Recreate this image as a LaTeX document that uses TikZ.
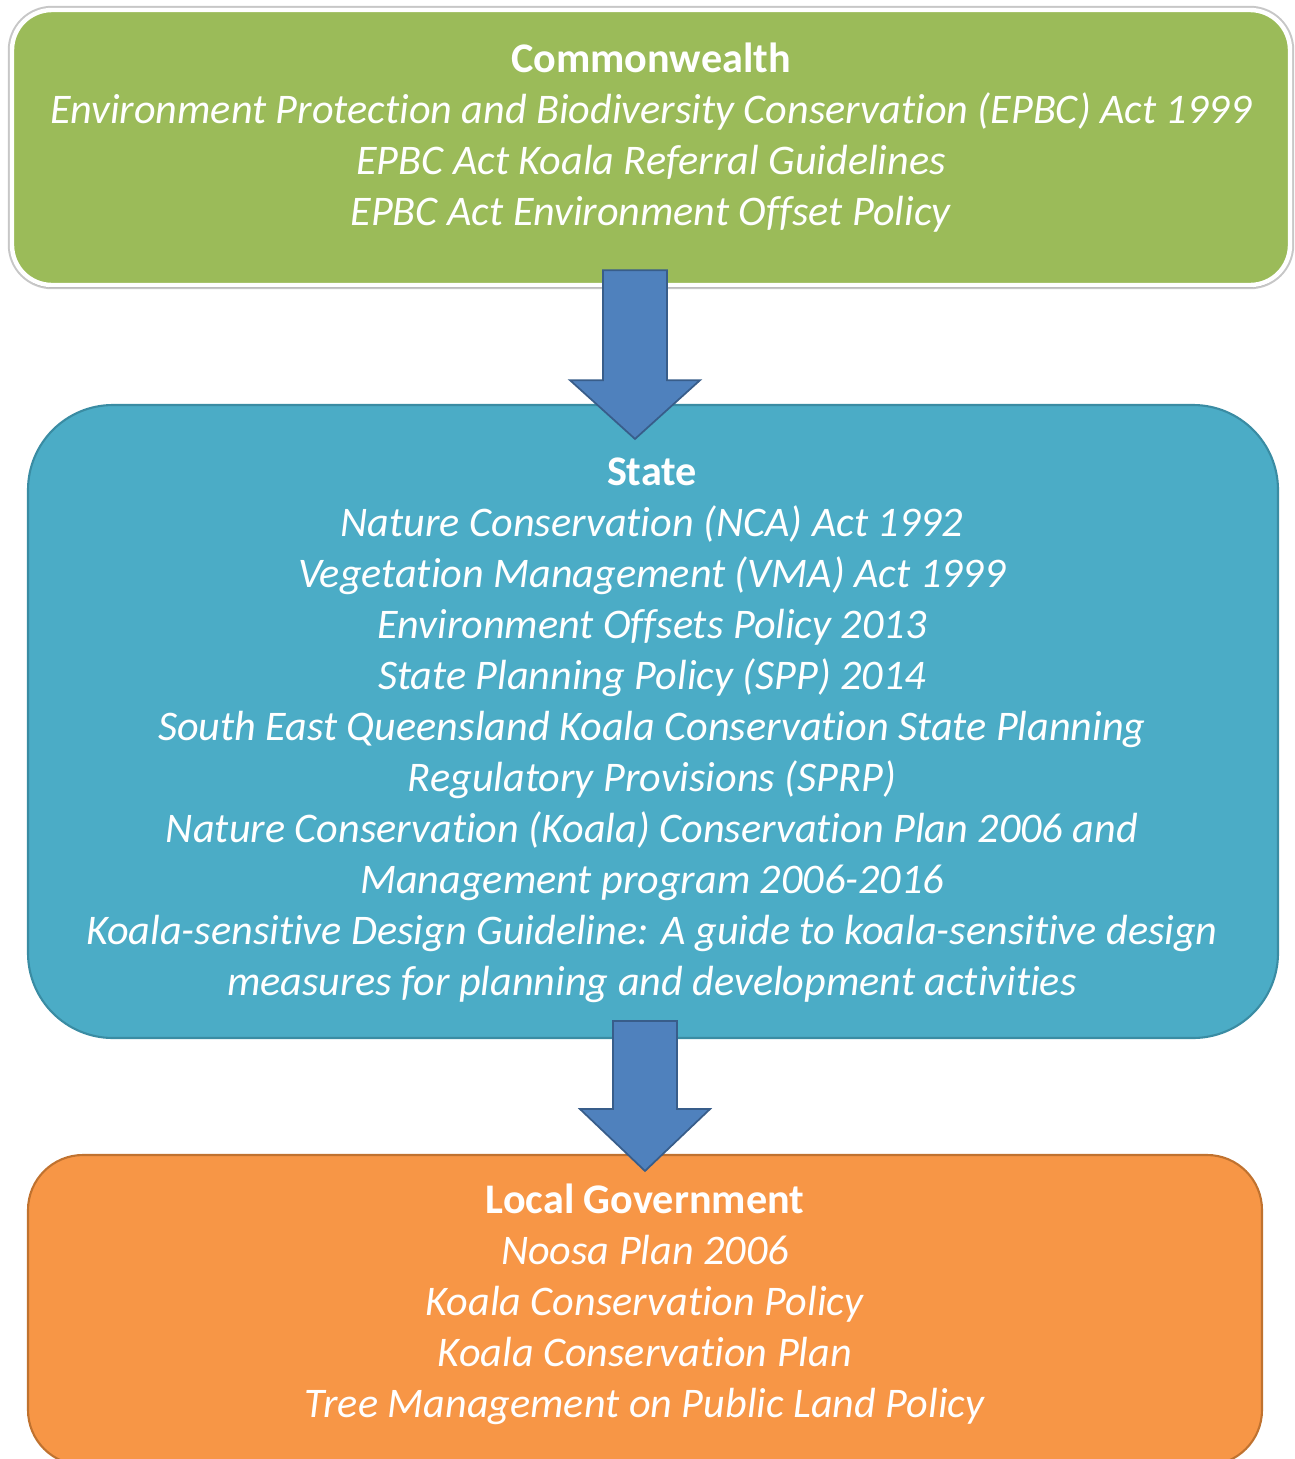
\documentclass[tikz,border=0pt]{standalone}
\usepackage{fontspec}
\setmainfont[RawFeature={-liga;-clig;-calt}]{Carlito}
\usetikzlibrary{calc,shadows}

\definecolor{commgreen}{HTML}{9BBB59}
\definecolor{stateblue}{HTML}{4BACC6}
\definecolor{stateline}{HTML}{3A8CA3}
\definecolor{localorange}{HTML}{F79646}
\definecolor{localline}{HTML}{C0722F}
\definecolor{arrowblue}{HTML}{4F81BD}
\definecolor{arrowline}{HTML}{385D8A}

\begin{document}
\begin{tikzpicture}[
  levelbox/.style={rectangle, inner sep=0pt},
  leveltext/.style={text=white, align=center, inner sep=0pt, font=\fontsize{24}{29}\selectfont},
  bigarrow/.style={fill=arrowblue, draw=arrowline, line width=1pt, line join=miter}
]
  \useasboundingbox (0, 0) rectangle (25.9, -29.18);

  \node[levelbox, minimum width=25.56cm, minimum height=5.5cm, rounded corners=0.8cm, fill=commgreen, draw=white, line width=2.5pt, preaction={draw=black!22, line width=4.8pt}, drop shadow={shadow xshift=0pt, shadow yshift=-1.5pt, opacity=0.3, fill=black!60}] (comm) at (13.02, -2.95) {};
  \node[levelbox, minimum width=25cm, minimum height=12.66cm, rounded corners=1.7cm, fill=stateblue, draw=stateline, line width=1.2pt] (state) at (13.06, -14.43) {};
  \node[levelbox, minimum width=24.68cm, minimum height=6.2cm, rounded corners=1.1cm, fill=localorange, draw=localline, line width=1.2pt] (local) at (12.9, -26.2) {};

  \node[leveltext] (commtext) at (13.02, -2.76) {{\bfseries Commonwealth}\\
    \textit{Environment Protection and Biodiversity Conservation (EPBC) Act 1999}\\
    \textit{EPBC Act Koala Referral Guidelines}\\
    \textit{EPBC Act Environment Offset Policy}};
  \node[leveltext] (statetext) at (13.04, -14.6) {{\bfseries State}\\
    \textit{Nature Conservation (NCA) Act 1992}\\
    \textit{Vegetation Management (VMA) Act 1999}\\
    \textit{Environment Offsets Policy 2013}\\
    \textit{State Planning Policy (SPP) 2014}\\
    \textit{South East Queensland Koala Conservation State Planning}\\
    \textit{Regulatory Provisions (SPRP)}\\
    \textit{Nature Conservation (Koala) Conservation Plan 2006 and}\\
    \textit{Management program 2006-2016}\\
    \textit{Koala-sensitive Design Guideline: A guide to koala-sensitive design}\\
    \textit{measures for planning and development activities}};
  \node[leveltext] (localtext) at (12.9, -26.08) {{\bfseries Local Government}\\
    \textit{Noosa Plan 2006}\\
    \textit{Koala Conservation Policy}\\
    \textit{Koala Conservation Plan}\\
    \textit{Tree Management on Public Land Policy}};

  % block arrows between the levels
  \coordinate (a1) at ($(comm.south)+(-0.32, 0.34)$);
  \coordinate (a1tip) at ($(state.north)+(-0.36, -0.7)$);
  \draw[bigarrow] ($(a1)+(-0.64, 0)$) -- ($(a1)+(0.64, 0)$) -- ($(a1)+(0.64, -2.2)$) -- ($(a1)+(1.3, -2.2)$) -- (a1tip) -- ($(a1)+(-1.3, -2.2)$) -- ($(a1)+(-0.64, -2.2)$) -- cycle;

  \coordinate (a2) at ($(state.south)+(-0.16, 0.36)$);
  \coordinate (a2tip) at ($(local.north)+(0, -0.34)$);
  \draw[bigarrow] ($(a2)+(-0.64, 0)$) -- ($(a2)+(0.64, 0)$) -- ($(a2)+(0.64, -1.76)$) -- ($(a2)+(1.3, -1.76)$) -- (a2tip) -- ($(a2)+(-1.3, -1.76)$) -- ($(a2)+(-0.64, -1.76)$) -- cycle;
\end{tikzpicture}
\end{document}
